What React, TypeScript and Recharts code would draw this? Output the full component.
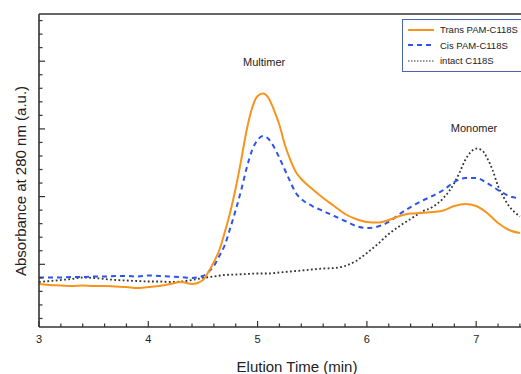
import React from 'react';
import { LineChart, Line, XAxis, YAxis, ReferenceLine, ReferenceDot, Legend } from 'recharts';

// elution time (min) and absorbance (a.u.)
const transTime = [
  3.0, 3.1, 3.2, 3.3, 3.4, 3.5, 3.6, 3.7, 3.8, 3.9, 4.0, 4.1, 4.2, 4.3, 4.4, 4.5,
  4.55, 4.6, 4.65, 4.7, 4.75, 4.8, 4.85, 4.9, 4.95, 5.0, 5.05, 5.1, 5.15, 5.2, 5.25,
  5.3, 5.35, 5.4, 5.5, 5.6, 5.7, 5.8, 5.9, 6.0, 6.1, 6.2, 6.3, 6.4, 6.5, 6.6, 6.7,
  6.8, 6.9, 7.0, 7.1, 7.2, 7.3, 7.4,
];
const transAbs = [
  0.709, 0.694, 0.687, 0.679, 0.687, 0.679, 0.679, 0.672, 0.665, 0.65, 0.665, 0.679,
  0.709, 0.739, 0.709, 0.768, 0.886, 1.034, 1.211, 1.477, 1.773, 2.127, 2.541, 2.984,
  3.309, 3.486, 3.523, 3.456, 3.279, 3.058, 2.762, 2.541, 2.363, 2.26, 2.112, 1.979,
  1.861, 1.743, 1.669, 1.625, 1.617, 1.654, 1.713, 1.75, 1.758, 1.773, 1.795, 1.861,
  1.891, 1.861, 1.758, 1.61, 1.507, 1.462,
];

const cisTime = transTime;
const cisAbs = [
  0.805, 0.805, 0.805, 0.812, 0.812, 0.82, 0.82, 0.827, 0.827, 0.82, 0.835, 0.827,
  0.82, 0.812, 0.798, 0.827, 0.886, 0.975, 1.123, 1.285, 1.536, 1.802, 2.097, 2.422,
  2.688, 2.836, 2.895, 2.851, 2.733, 2.57, 2.393, 2.216, 2.053, 1.965, 1.861, 1.787,
  1.713, 1.64, 1.566, 1.536, 1.558, 1.625, 1.743, 1.846, 1.935, 2.009, 2.097, 2.216,
  2.275, 2.275, 2.201, 2.097, 2.009, 1.972,
];

const intactTime = [
  3.0, 3.1, 3.2, 3.3, 3.4, 3.5, 3.6, 3.7, 3.8, 3.9, 4.0, 4.1, 4.2, 4.3, 4.4, 4.5,
  4.6, 4.7, 4.8, 4.9, 5.0, 5.1, 5.2, 5.3, 5.4, 5.5, 5.6, 5.7, 5.8, 5.9, 6.0, 6.1,
  6.2, 6.3, 6.4, 6.5, 6.6, 6.7, 6.8, 6.85, 6.9, 6.95, 7.0, 7.05, 7.1, 7.15, 7.2,
  7.25, 7.3, 7.35, 7.4,
];
const intactAbs = [
  0.739, 0.753, 0.768, 0.783, 0.805, 0.798, 0.783, 0.768, 0.761, 0.753, 0.746, 0.746,
  0.739, 0.746, 0.768, 0.798, 0.82, 0.842, 0.849, 0.857, 0.864, 0.864, 0.879, 0.894,
  0.908, 0.923, 0.938, 0.945, 0.975, 1.049, 1.167, 1.3, 1.448, 1.566, 1.669, 1.773,
  1.846, 1.979, 2.201, 2.363, 2.541, 2.659, 2.71, 2.688, 2.57, 2.393, 2.157, 1.994,
  1.861, 1.773, 1.706,
];

const xMajorTicks = [3, 4, 5, 6, 7];
const xMinorTicks = [
  3.2, 3.4, 3.6, 3.8, 4.2, 4.4, 4.6, 4.8, 5.2, 5.4, 5.6, 5.8, 6.2, 6.4, 6.6, 6.8, 7.2, 7.4,
];
const yMajorTicks = [1, 2, 3, 4];
const yMinorTicks = [
  0.2, 0.4, 0.6, 0.8, 1.2, 1.4, 1.6, 1.8, 2.2, 2.4, 2.6, 2.8, 3.2, 3.4, 3.6, 3.8, 4.2, 4.4, 4.6,
];

const seriesNames = ['Trans PAM-C118S', 'Cis PAM-C118S', 'intact C118S'];
const annotations = [
  { label: 'Multimer', t: 5.06, v: 3.99 },
  { label: 'Monomer', t: 6.98, v: 3.01 },
];

const X_MIN = 3;
const X_MAX = 7.41;
const Y_MIN = 0.074;
const Y_MAX = 4.697;

const FONT = '"Liberation Sans", Arial, Helvetica, sans-serif';
const AXIS = '#333';
const ORANGE = '#f7941d';
const BLUE = '#2f54ee';
const DOTTED = '#333';

const zip = (ts: number[], vs: number[]) => ts.map((t, i) => ({ t, v: vs[i] }));
const transData = zip(transTime, transAbs);
const cisData = zip(cisTime, cisAbs);
const intactData = zip(intactTime, intactAbs);

const XTick = ({ x, y, payload }: any) => {
  const major = xMajorTicks.includes(payload.value);
  return (
    <g>
      <line x1={x} x2={x} y1={y} y2={y - (major ? 6 : 3.5)} stroke={AXIS} strokeWidth={1.2} />
      {major && (
        <text x={x} y={y + 16} textAnchor="middle" fontSize={11} fill="#222" fontFamily={FONT}>
          {payload.value}
        </text>
      )}
    </g>
  );
};

const YTick = ({ x, y, payload }: any) => {
  const major = yMajorTicks.includes(payload.value);
  return <line x1={x} x2={x + (major ? 6 : 3.5)} y1={y} y2={y} stroke={AXIS} strokeWidth={1.2} />;
};

const LegendBox = () => {
  const styles = [
    { stroke: ORANGE, dash: undefined },
    { stroke: BLUE, dash: '5 4' },
    { stroke: DOTTED, dash: '1.5 1.5' },
  ];
  return (
    <div
      style={{
        border: '1px solid #4a64b0',
        background: '#fff',
        padding: '2px 0 2px 4px',
        width: 130,
        boxSizing: 'border-box',
        fontFamily: FONT,
        fontSize: 9.5,
        color: '#222',
      }}
    >
      {seriesNames.map((name, i) => (
        <div key={name} style={{ display: 'flex', alignItems: 'center', height: 15.5, whiteSpace: 'nowrap' }}>
          <svg width={33} height={10} style={{ flexShrink: 0 }}>
            <line
              x1={1}
              x2={27}
              y1={5}
              y2={5}
              stroke={styles[i].stroke}
              strokeWidth={i === 2 ? 1.2 : 2}
              strokeDasharray={styles[i].dash}
            />
          </svg>
          <span>{name}</span>
        </div>
      ))}
    </div>
  );
};

export default function App() {
  return (
    <div style={{ position: 'absolute', left: 0, top: 0, width: 521, height: 374, overflow: 'hidden', background: '#fff' }}>
      <LineChart width={521} height={374} margin={{ top: 14, right: 0, bottom: 0, left: 0 }}>
        <XAxis
          dataKey="t"
          type="number"
          domain={[X_MIN, X_MAX]}
          allowDataOverflow
          ticks={[...xMajorTicks, ...xMinorTicks].sort((a, b) => a - b)}
          interval={0}
          tick={<XTick />}
          tickLine={false}
          tickSize={0}
          tickMargin={0}
          height={47}
          axisLine={{ stroke: AXIS, strokeWidth: 1.6 }}
          label={{
            value: 'Elution Time (min)',
            position: 'insideBottom',
            offset: 2,
            dx: 17,
            fontSize: 15,
            fill: '#222',
            fontFamily: FONT,
          }}
        />
        <YAxis
          type="number"
          domain={[Y_MIN, Y_MAX]}
          allowDataOverflow
          ticks={[...yMajorTicks, ...yMinorTicks].sort((a, b) => a - b)}
          interval={0}
          tick={<YTick />}
          tickLine={false}
          tickSize={0}
          tickMargin={0}
          width={39}
          axisLine={{ stroke: AXIS, strokeWidth: 1.6 }}
          label={{
            content: () => (
              <text
                transform="translate(20,181) rotate(-90)"
                textAnchor="middle"
                dominantBaseline="central"
                fontSize={15}
                fill="#222"
                fontFamily={FONT}
              >
                Absorbance at 280 nm (a.u.)
              </text>
            ),
          }}
        />
        <ReferenceLine y={Y_MAX} stroke={AXIS} strokeWidth={1.6} ifOverflow="visible" />
        <Line
          data={intactData}
          dataKey="v"
          type="monotone"
          stroke={DOTTED}
          strokeWidth={1.8}
          strokeDasharray="1.8 2.4"
          dot={false}
          isAnimationActive={false}
          legendType="none"
        />
        <Line
          data={cisData}
          dataKey="v"
          type="monotone"
          stroke={BLUE}
          strokeWidth={2}
          strokeDasharray="5 4"
          dot={false}
          isAnimationActive={false}
        />
        <Line
          data={transData}
          dataKey="v"
          type="monotone"
          stroke={ORANGE}
          strokeWidth={2}
          dot={false}
          isAnimationActive={false}
        />
        {annotations.map((a) => (
          <ReferenceDot
            key={a.label}
            x={a.t}
            y={a.v}
            r={0}
            stroke="none"
            fill="none"
            label={{ value: a.label, position: 'center', fontSize: 11, fill: '#222', fontFamily: FONT }}
          />
        ))}
        <Legend
          layout="vertical"
          align="center"
          verticalAlign="middle"
          content={() => <LegendBox />}
          wrapperStyle={{ left: 402, top: 19, width: 130 }}
        />
      </LineChart>
    </div>
  );
}
